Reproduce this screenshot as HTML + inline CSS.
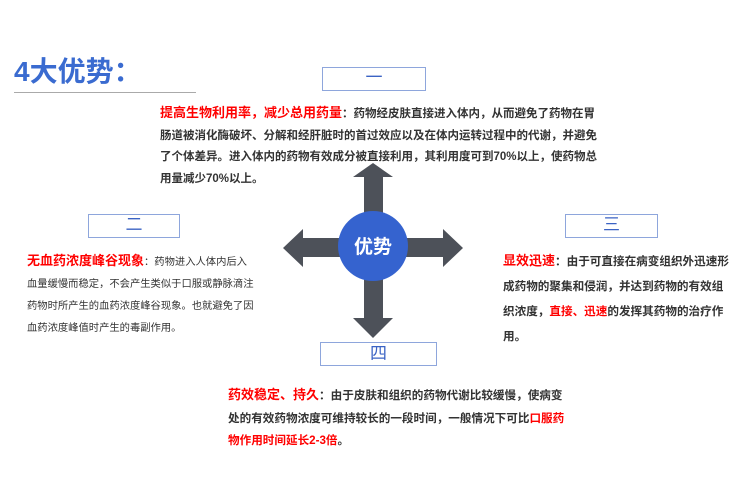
<!DOCTYPE html>
<html><head><meta charset="utf-8"><style>
body{margin:0;width:750px;height:489px;background:#fff;position:relative;overflow:hidden;font-family:"Liberation Sans","Noto Sans CJK SC",sans-serif;color:#333}
.a{position:absolute}
.box{position:absolute;border:1.5px solid #8ea6dc;box-sizing:border-box;text-align:center;color:#3b63c4;font-size:17px}
.r{color:#f00;font-weight:bold}
p{margin:0;position:absolute;font-weight:bold}
</style></head><body>
<div class="a" style="left:14px;top:50px;font-size:28px;font-weight:bold;color:#3a6bd0">4大优势：</div>
<div class="a" style="left:14px;top:92px;width:182px;height:1px;background:#aaa"></div>
<div class="box" style="left:322px;top:67px;width:104px;height:24px;line-height:20px">一</div>
<div class="box" style="left:88px;top:214px;width:92px;height:24px;line-height:20px">二</div>
<div class="box" style="left:565px;top:214px;width:93px;height:24px;line-height:20px">三</div>
<div class="box" style="left:320px;top:342px;width:117px;height:24px;line-height:21px">四</div>
<p style="left:160px;top:102px;width:442px;font-size:11.5px;line-height:21.7px"><span class="r" style="font-size:13px">提高生物利用率，减少总用药量</span>：药物经皮肤直接进入体内，从而避免了药物在胃肠道被消化酶破坏、分解和经肝脏时的首过效应以及在体内运转过程中的代谢，并避免了个体差异。进入体内的药物有效成分被直接利用，其利用度可到70%以上，使药物总用量减少70%以上。</p>
<p style="left:27px;top:250px;width:228px;font-size:10.3px;line-height:22px;font-weight:normal"><span class="r" style="font-size:13px">无血药浓度峰谷现象</span>：药物进入人体内后入血量缓慢而稳定，不会产生类似于口服或静脉滴注药物时所产生的血药浓度峰谷现象。也就避免了因血药浓度峰值时产生的毒副作用。</p>
<p style="left:503px;top:248px;width:226px;font-size:11.6px;line-height:25px"><span class="r" style="font-size:13px">显效迅速</span>：由于可直接在病变组织外迅速形成药物的聚集和侵润，并达到药物的有效组织浓度，<span style="color:#f00">直接、迅速</span>的发挥其药物的治疗作用。</p>
<p style="left:228px;top:384px;width:340px;font-size:11.6px;line-height:22.5px"><span class="r" style="font-size:13px">药效稳定、持久</span>：由于皮肤和组织的药物代谢比较缓慢，使病变处的有效药物浓度可维持较长的一段时间，一般情况下可比<span style="color:#f00">口服药物作用时间延长2-3倍</span>。</p>
<svg class="a" style="left:0;top:0" width="750" height="489">
<g fill="#4d5159">
<polygon points="373,163 393,177 383,177 383,247 364,247 364,177 353,177"/>
<polygon points="373,338 393,318 383,318 383,247 364,247 364,318 353,318"/>
<polygon points="283,248 303,229 303,238 373,238 373,257 303,257 303,267"/>
<polygon points="463,248 443,229 443,238 373,238 373,257 443,257 443,267"/>
</g>
<circle cx="373" cy="246" r="35" fill="#3563cf"/>
<text x="373" y="253" text-anchor="middle" font-size="19" font-weight="bold" fill="#fff" font-family="Liberation Sans,Noto Sans CJK SC,sans-serif">优势</text>
</svg>
</body></html>
